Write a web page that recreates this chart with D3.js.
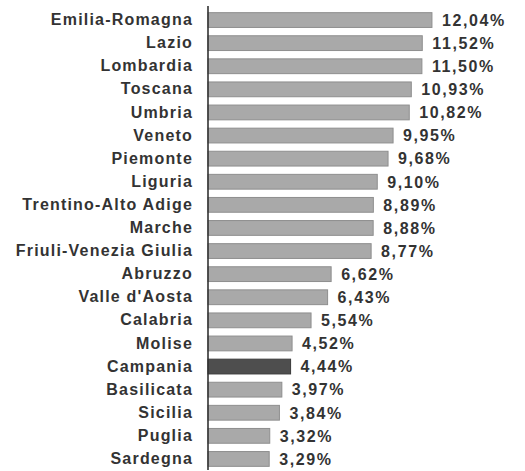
<!DOCTYPE html>
<html>
<head>
<meta charset="utf-8">
<script src="https://cdn.jsdelivr.net/npm/d3@7"></script>
<style>
  html, body { margin: 0; padding: 0; background: #fff; }
  svg { display: block; }
  text { font-family: "Liberation Sans", Arial, sans-serif; }
</style>
</head>
<body>
<svg id="chart" width="525" height="471"></svg>
<script>
const regions = ["Emilia-Romagna","Lazio","Lombardia","Toscana","Umbria","Veneto","Piemonte","Liguria","Trentino-Alto Adige","Marche","Friuli-Venezia Giulia","Abruzzo","Valle d'Aosta","Calabria","Molise","Campania","Basilicata","Sicilia","Puglia","Sardegna"];
const values = [12.04,11.52,11.50,10.93,10.82,9.95,9.68,9.10,8.89,8.88,8.77,6.62,6.43,5.54,4.52,4.44,3.97,3.84,3.32,3.29];
const highlight = ["Campania"];

const data = regions.map((r, i) => ({ region: r, value: values[i] }));
const svg = d3.select("#chart");

const x = d3.scaleLinear().domain([0, 14]).range([208, 208 + 14 * 18.6]);
const y = d3.scaleBand().domain(regions).range([8.5, 470.5]).paddingInner(0.36).paddingOuter(0.18);

const fmt = v => v.toFixed(2).replace(".", ",") + "%";

// bars
svg.append("g").selectAll("rect").data(data).join("rect")
  .attr("x", x(0))
  .attr("y", d => y(d.region))
  .attr("width", d => x(d.value) - x(0))
  .attr("height", y.bandwidth())
  .attr("fill", d => highlight.includes(d.region) ? "#4e4e4e" : "#a9a9a9")
  .attr("stroke", d => highlight.includes(d.region) ? "#3a3a3a" : "#8e8e8e")
  .attr("stroke-width", 1);

// value labels
svg.append("g").selectAll("text").data(data).join("text")
  .attr("x", d => x(d.value) + 10)
  .attr("y", d => y(d.region) + y.bandwidth() / 2)
  .attr("dy", "0.36em")
  .attr("font-size", 16)
  .attr("font-weight", "bold")
  .attr("letter-spacing", 1.6)
  .attr("fill", "#333")
  .text(d => fmt(d.value));

// category axis
const axis = d3.axisLeft(y).tickSize(0).tickPadding(15);
const ag = svg.append("g").attr("transform", `translate(${x(0)},0)`).call(axis);
ag.select(".domain").remove();
ag.selectAll("text")
  .attr("font-size", 16)
  .attr("font-weight", "bold")
  .attr("letter-spacing", 1.2)
  .attr("fill", "#333")
  .attr("font-family", "'Liberation Sans', Arial, sans-serif");

// axis line
svg.append("line")
  .attr("x1", x(0)).attr("x2", x(0))
  .attr("y1", 6).attr("y2", 470)
  .attr("stroke", "#333").attr("stroke-width", 1.6);
</script>
</body>
</html>
